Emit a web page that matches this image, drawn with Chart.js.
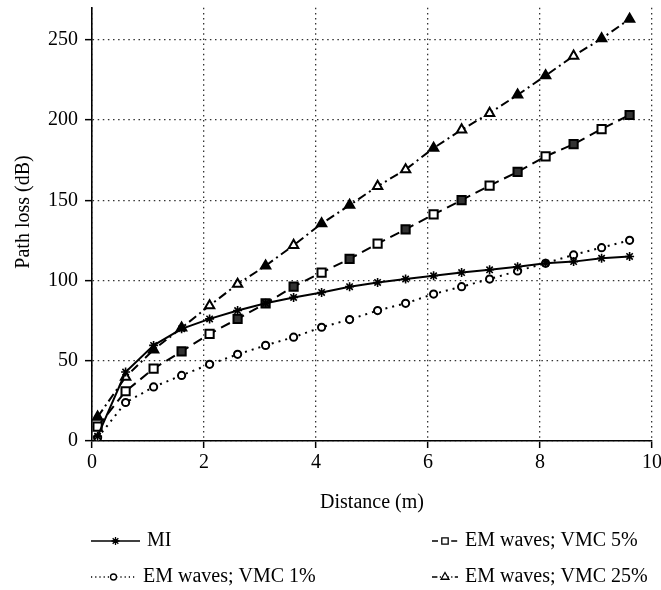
<!DOCTYPE html>
<html>
<head>
<meta charset="utf-8">
<script src="https://cdn.jsdelivr.net/npm/chart.js@4"></script>
<style>
  html,body{margin:0;padding:0;background:#fff;}
  #wrap{width:661px;height:590px;}
</style>
</head>
<body>
<div id="wrap"><canvas id="c" width="661" height="590"></canvas></div>
<script>
/* ── DATA ── */
const distance = [0.1,0.6,1.1,1.6,2.1,2.6,3.1,3.6,4.1,4.6,5.1,5.6,6.1,6.6,7.1,7.6,8.1,8.6,9.1,9.6];
const lossMI    = [3,43,59.6,69.9,76.1,81.3,85.8,89.5,92.6,96.2,98.8,100.9,103,105,106.7,108.6,110.8,111.8,113.9,115];
const lossVMC1  = [2,24,33.7,40.9,47.8,54,59.6,64.7,70.9,75.7,81.3,85.8,91.6,96.2,100.9,106,110.8,116,120.5,125.1];
const lossVMC5  = [9,31,45.1,55.8,66.8,76.1,85.8,96.2,105,113.5,123,131.9,141.2,150.1,159.2,167.7,177.4,185,194.4,203.2];
const lossVMC25 = [15,39.9,56.9,70.5,84.4,97.8,109.2,122,135.5,147,158.8,169.2,182.6,194,204.3,215.7,227.7,240,250.8,263];
const xTicks = [0,2,4,6,8,10];
const yTicks = [0,50,100,150,200,250];
const seriesNames = ['MI','EM waves; VMC 1%','EM waves; VMC 5%','EM waves; VMC 25%'];

// marker fills as they print in the scan (some come out solid)
const triSolid = [1,0,1,1,0,0,1,0,1,1,0,0,1,0,0,1,1,0,1,1];
const sqSolid  = [0,0,0,1,0,1,1,1,0,1,0,1,0,1,0,1,0,1,0,1];

const SERIF = '"Liberation Serif", "Times New Roman", serif';
const pts = ys => distance.map((x,i)=>({x, y:ys[i]}));

const datasets = [
  { label:seriesNames[0], data:pts(lossMI), borderColor:'#000', borderWidth:2, borderDash:[],
    pointStyle:'star', pointRadius:4.5, pointBorderWidth:1.6, pointBorderColor:'#000', pointBackgroundColor:'#000' },
  { label:seriesNames[1], data:pts(lossVMC1), borderColor:'#000', borderWidth:2, borderDash:[2,5],
    pointStyle:'circle', pointRadius:3.6, pointBorderWidth:2, pointBorderColor:'#000', pointBackgroundColor:'#fff' },
  { label:seriesNames[2], data:pts(lossVMC5), borderColor:'#000', borderWidth:2, borderDash:[10,6],
    pointStyle:'rect', pointRadius:5.8, pointBorderWidth:2, pointBorderColor:'#000',
    pointBackgroundColor:sqSolid.map(s=>s?'#333':'#fff') },
  { label:seriesNames[3], data:pts(lossVMC25), borderColor:'#000', borderWidth:2, borderDash:[9,4,2,4],
    pointStyle:'triangle', pointRadius:5.4, pointBorderWidth:2, pointBorderColor:'#000',
    pointBackgroundColor:triSolid.map(s=>s?'#000':'#fff') }
];

/* legend + y title, drawn under the plot */
const legendSpots = [
  { ds:0, x0:91,  x1:140, y:541 },
  { ds:2, x0:432, x1:458, y:541 },
  { ds:1, x0:91,  x1:136, y:577 },
  { ds:3, x0:432, x1:458, y:577 }
];
const legendRadius = { star:4, circle:3, rect:4.5, triangle:4.5 };

const extras = {
  id:'extras',
  afterDraw(chart) {
    const ctx = chart.ctx;
    ctx.save();
    ctx.fillStyle = '#000';
    ctx.font = '20px ' + SERIF;
    ctx.textAlign = 'center'; ctx.textBaseline = 'middle';
    ctx.translate(24, 212); ctx.rotate(-Math.PI/2);
    ctx.fillText('Path loss (dB)', 0, 0);
    ctx.restore();

    legendSpots.forEach(s=>{
      const d = chart.data.datasets[s.ds];
      ctx.save();
      ctx.strokeStyle = '#000'; ctx.lineWidth = 1.6;
      ctx.setLineDash(d.borderDash.length ? d.borderDash.map(v=>v*0.6) : []);
      ctx.beginPath(); ctx.moveTo(s.x0, s.y); ctx.lineTo(s.x1, s.y); ctx.stroke();
      ctx.setLineDash([]);
      ctx.fillStyle = '#fff'; ctx.lineWidth = 1.3;
      Chart.helpers.drawPoint(ctx, { pointStyle:d.pointStyle, radius:legendRadius[d.pointStyle], rotation:0, borderWidth:1.3 },
        (s.x0+s.x1)/2, s.y);
      ctx.fillStyle = '#000';
      ctx.font = '20px ' + SERIF;
      ctx.textAlign = 'left'; ctx.textBaseline = 'middle';
      ctx.fillText(d.label, s.x1 + 7, s.y);
      ctx.restore();
    });
  }
};

const gridCommon = { color:'#333', lineWidth:1.3, tickLength:7, tickColor:'#000', tickWidth:1.5, tickBorderDash:[] };
const borderCommon = { display:true, color:'#000', width:1.6, dash:[1.5,3.6] };

new Chart(document.getElementById('c').getContext('2d'), {
  type:'line',
  data:{ datasets },
  options:{
    responsive:false, animation:false, devicePixelRatio:1,
    layout:{ padding:{ top:6, left:0, right:0, bottom:75 } },
    elements:{ line:{ tension:0 } },
    plugins:{ legend:{ display:false }, tooltip:{ enabled:false } },
    scales:{
      x:{
        type:'linear', min:0, max:10,
        afterBuildTicks: s => { s.ticks = xTicks.map(v=>({value:v})); },
        afterFit: s => { s.height = 74; s.paddingRight = 9; },
        ticks:{ color:'#000', font:{ family:SERIF, size:20 }, padding:3, maxRotation:0 },
        grid:gridCommon, border:borderCommon,
        title:{ display:true, text:'Distance (m)', color:'#000', font:{ family:SERIF, size:20 }, padding:0 }
      },
      y:{
        min:0, max:270,
        afterBuildTicks: s => { s.ticks = yTicks.map(v=>({value:v})); },
        afterFit: s => { s.width = 92; s.paddingTop = 0; s.paddingBottom = 0; },
        ticks:{ color:'#000', font:{ family:SERIF, size:20 }, padding:7 },
        grid:gridCommon, border:borderCommon
      }
    }
  },
  plugins:[extras]
});
</script>
</body>
</html>
